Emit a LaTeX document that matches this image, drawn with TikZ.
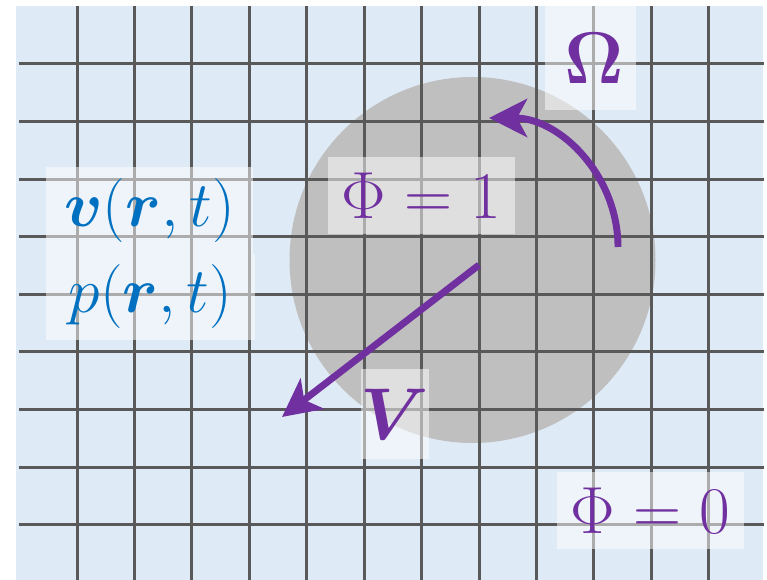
\RequirePackage{fix-cm}
\documentclass[tikz,border=0pt]{standalone}
\usepackage{bm}
\usetikzlibrary{arrows.meta}
\definecolor{bgblue}{HTML}{DEEAF6}
\definecolor{gridgray}{HTML}{595959}
\definecolor{diskgray}{HTML}{BFBFBF}
\definecolor{lblue}{HTML}{0070C0}
\definecolor{lpurple}{HTML}{7030A0}
\tikzset{
  gridline/.style={draw=gridgray,line width=2.25pt},
  lbl/.style={fill=white,fill opacity=0.5,text opacity=1,inner sep=0pt,anchor=center},
  arrowline/.style={draw=lpurple,line width=5.2pt,-{Stealth[length=28.5pt,width=28.5pt,inset=7.5pt]}}
}
\begin{document}
\begin{tikzpicture}[x=0.75pt,y=-0.75pt]
\useasboundingbox (0,0) rectangle (767,580);
\fill[bgblue] (16,6) rectangle (763,580);
\fill[diskgray] (472.5,260) circle[radius=183];
\foreach \i in {0,...,11} \draw[gridline] ({77+57.43*\i},6) -- ({77+57.43*\i},580);
\foreach \j in {0,...,8} \draw[gridline] (19,{64+57.6*\j}) -- (764,{64+57.6*\j});
% labels
\node[lbl,minimum width=155.25pt,minimum height=65.25pt,text=lblue] (vlab) at (149.5,210.5) {\fontsize{48}{52}\selectfont $\bm{v}(\bm{r},t)$};
\node[lbl,minimum width=156.75pt,minimum height=64.5pt,text=lblue] (plab) at (150.5,297) {\fontsize{48}{52}\selectfont $p(\bm{r},t)$};
\node[lbl,minimum width=140.25pt,minimum height=57.75pt,text=lpurple] (phi1) at (421.5,195.5) {\fontsize{50}{54}\selectfont $\Phi = 1$};
\node[lbl,minimum width=51pt,minimum height=67.5pt,text=lpurple] (vel) at (395,414) {\fontsize{55}{60}\selectfont $\bm{V}$};
\node[lbl,minimum width=68.25pt,minimum height=78pt,text=lpurple] (omega) at (590.5,58) {\fontsize{55}{60}\selectfont \hspace*{6pt}$\bm{\Omega}$};
\node[lbl,minimum width=140.25pt,minimum height=57.75pt,text=lpurple] (phi0) at (650.5,510.5) {\fontsize{50}{54}\selectfont $\Phi = 0$};
% arrows
\coordinate (vstart) at (479,265);
\coordinate (vtip) at (282,417);
\draw[arrowline] (vstart) -- (vtip);
\coordinate (wstart) at (618,247);
\coordinate (wtip) at (489,118);
\draw[arrowline] (wstart) .. controls (618,175.8) and (560.2,118) .. (wtip);
\end{tikzpicture}
\end{document}
